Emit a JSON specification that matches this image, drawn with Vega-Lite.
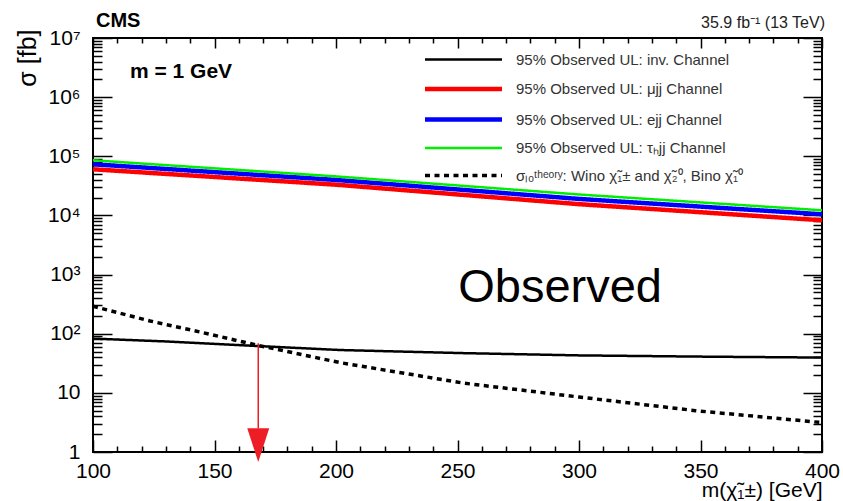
{
  "$schema": "https://vega.github.io/schema/vega-lite/v6.json",
  "width": 729,
  "height": 414,
  "autosize": {"type": "none"},
  "padding": {"left": 93, "top": 38, "right": 21, "bottom": 49},
  "background": "white",
  "config": {
    "font": "Liberation Sans",
    "view": {"stroke": "black", "strokeWidth": 2},
    "axis": {"grid": false, "domain": false, "tickColor": "black", "tickWidth": 1.5, "labelFlush": false, "labelOverlap": false, "labelBound": false, "labelColor": "black", "titleColor": "black", "titleFontWeight": "normal"}
  },
  "data": {
    "values": [
      {"series": "95% Observed UL: inv. Channel", "mass": 100, "xsec": 82.7},
      {"series": "95% Observed UL: inv. Channel", "mass": 130, "xsec": 74},
      {"series": "95% Observed UL: inv. Channel", "mass": 167.5, "xsec": 62},
      {"series": "95% Observed UL: inv. Channel", "mass": 201.6, "xsec": 53},
      {"series": "95% Observed UL: inv. Channel", "mass": 252, "xsec": 47},
      {"series": "95% Observed UL: inv. Channel", "mass": 300, "xsec": 43},
      {"series": "95% Observed UL: inv. Channel", "mass": 350, "xsec": 41},
      {"series": "95% Observed UL: inv. Channel", "mass": 400, "xsec": 39.5},
      {"series": "95% Observed UL: μjj Channel", "mass": 100, "xsec": 60300},
      {"series": "95% Observed UL: μjj Channel", "mass": 200, "xsec": 33100},
      {"series": "95% Observed UL: μjj Channel", "mass": 300, "xsec": 15500},
      {"series": "95% Observed UL: μjj Channel", "mass": 400, "xsec": 8280},
      {"series": "95% Observed UL: ejj Channel", "mass": 100, "xsec": 73300},
      {"series": "95% Observed UL: ejj Channel", "mass": 200, "xsec": 39800},
      {"series": "95% Observed UL: ejj Channel", "mass": 300, "xsec": 19000},
      {"series": "95% Observed UL: ejj Channel", "mass": 400, "xsec": 10450},
      {"series": "95% Observed UL: τₕjj Channel", "mass": 100, "xsec": 85600},
      {"series": "95% Observed UL: τₕjj Channel", "mass": 200, "xsec": 45700},
      {"series": "95% Observed UL: τₕjj Channel", "mass": 300, "xsec": 22600},
      {"series": "95% Observed UL: τₕjj Channel", "mass": 400, "xsec": 12200},
      {"series": "σₗₒᵗʰᵉᵒʳʸ: Wino χ̃₁± and χ̃₂⁰, Bino χ̃₁⁰", "mass": 100, "xsec": 291},
      {"series": "σₗₒᵗʰᵉᵒʳʸ: Wino χ̃₁± and χ̃₂⁰, Bino χ̃₁⁰", "mass": 123.5, "xsec": 164},
      {"series": "σₗₒᵗʰᵉᵒʳʸ: Wino χ̃₁± and χ̃₂⁰, Bino χ̃₁⁰", "mass": 144, "xsec": 107},
      {"series": "σₗₒᵗʰᵉᵒʳʸ: Wino χ̃₁± and χ̃₂⁰, Bino χ̃₁⁰", "mass": 167.5, "xsec": 64},
      {"series": "σₗₒᵗʰᵉᵒʳʸ: Wino χ̃₁± and χ̃₂⁰, Bino χ̃₁⁰", "mass": 201.6, "xsec": 32.5},
      {"series": "σₗₒᵗʰᵉᵒʳʸ: Wino χ̃₁± and χ̃₂⁰, Bino χ̃₁⁰", "mass": 252, "xsec": 14.7},
      {"series": "σₗₒᵗʰᵉᵒʳʸ: Wino χ̃₁± and χ̃₂⁰, Bino χ̃₁⁰", "mass": 300, "xsec": 8.5},
      {"series": "σₗₒᵗʰᵉᵒʳʸ: Wino χ̃₁± and χ̃₂⁰, Bino χ̃₁⁰", "mass": 348, "xsec": 5.0},
      {"series": "σₗₒᵗʰᵉᵒʳʸ: Wino χ̃₁± and χ̃₂⁰, Bino χ̃₁⁰", "mass": 400, "xsec": 3.14}
    ]
  },
  "resolve": {"axis": {"x": "independent", "y": "independent"}},
  "layer": [
    {
      "mark": {"type": "line", "strokeCap": "butt", "clip": true},
      "encoding": {
        "x": {"field": "mass", "type": "quantitative",
          "scale": {"domain": [100, 400], "nice": false, "zero": false},
          "axis": {"orient": "bottom", "values": [100, 150, 200, 250, 300, 350, 400], "tickSize": -12, "labelPadding": 20, "labelFontSize": 21, "title": "m(χ̃₁±) [GeV]", "titleFontSize": 21, "titleAnchor": "end", "titleAlign": "right", "titleBaseline": "alphabetic", "titleX": 729, "titleY": 44}},
        "y": {"field": "xsec", "type": "quantitative",
          "scale": {"type": "log", "domain": [1, 10000000], "nice": false},
          "axis": {"orient": "left", "values": [1, 10, 100, 1000, 10000, 100000, 1000000, 10000000], "tickSize": -19, "labelPadding": 32, "labelFontSize": 21,
            "labelExpr": "datum.value < 5 ? '1' : datum.value < 50 ? '10' : '10' + ['','','²','³','⁴','⁵','⁶','⁷'][round(log(datum.value)/LN10)]",
            "title": "σ [fb]", "titleFontSize": 25, "titleAnchor": "end", "titleAlign": "right", "titleBaseline": "bottom", "titleAngle": -90, "titleX": -53, "titleY": -9}},
        "color": {"field": "series", "type": "nominal",
          "scale": {"domain": ["95% Observed UL: inv. Channel", "95% Observed UL: μjj Channel", "95% Observed UL: ejj Channel", "95% Observed UL: τₕjj Channel", "σₗₒᵗʰᵉᵒʳʸ: Wino χ̃₁± and χ̃₂⁰, Bino χ̃₁⁰"],
            "range": ["#000000", "#ff0000", "#0000ff", "#00ee00", "#000000"]},
          "legend": {"orient": "none", "legendX": 363, "legendY": 14, "title": null, "symbolType": "M-7.7,0L7.7,0", "symbolSize": 100, "labelFontSize": 15, "labelColor": "#333333", "labelLimit": 400, "rowPadding": 11.5, "labelOffset": 45, "padding": 0}},
        "strokeDash": {"field": "series", "type": "nominal",
          "scale": {"domain": ["95% Observed UL: inv. Channel", "95% Observed UL: μjj Channel", "95% Observed UL: ejj Channel", "95% Observed UL: τₕjj Channel", "σₗₒᵗʰᵉᵒʳʸ: Wino χ̃₁± and χ̃₂⁰, Bino χ̃₁⁰"],
            "range": [[1, 0], [1, 0], [1, 0], [1, 0], [5, 4.5]]}},
        "strokeWidth": {"field": "series", "type": "nominal",
          "scale": {"type": "ordinal", "domain": ["95% Observed UL: inv. Channel", "95% Observed UL: μjj Channel", "95% Observed UL: ejj Channel", "95% Observed UL: τₕjj Channel", "σₗₒᵗʰᵉᵒʳʸ: Wino χ̃₁± and χ̃₂⁰, Bino χ̃₁⁰"],
            "range": [2.5, 4.5, 4.5, 2.5, 3.5]}}
      }
    },
    {
      "mark": {"type": "point", "opacity": 0},
      "encoding": {
        "x": {"field": "mass", "type": "quantitative", "scale": {"domain": [100, 400], "nice": false, "zero": false},
          "axis": {"orient": "bottom", "values": [110, 120, 130, 140, 160, 170, 180, 190, 210, 220, 230, 240, 260, 270, 280, 290, 310, 320, 330, 340, 360, 370, 380, 390], "tickSize": -6, "labels": false, "title": null}},
        "y": {"field": "xsec", "type": "quantitative", "scale": {"type": "log", "domain": [1, 10000000], "nice": false},
          "axis": {"orient": "left", "values": [2, 3, 4, 5, 6, 7, 8, 9, 20, 30, 40, 50, 60, 70, 80, 90, 200, 300, 400, 500, 600, 700, 800, 900, 2000, 3000, 4000, 5000, 6000, 7000, 8000, 9000, 20000, 30000, 40000, 50000, 60000, 70000, 80000, 90000, 200000, 300000, 400000, 500000, 600000, 700000, 800000, 900000, 2000000, 3000000, 4000000, 5000000, 6000000, 7000000, 8000000, 9000000], "tickSize": -9, "labels": false, "title": null}}
      }
    },
    {
      "mark": {"type": "point", "opacity": 0},
      "encoding": {
        "x": {"field": "mass", "type": "quantitative", "scale": {"domain": [100, 400], "nice": false, "zero": false},
          "axis": {"orient": "top", "values": [100, 150, 200, 250, 300, 350, 400], "tickSize": -10, "labels": false, "title": null}},
        "y": {"field": "xsec", "type": "quantitative", "scale": {"type": "log", "domain": [1, 10000000], "nice": false},
          "axis": {"orient": "right", "values": [1, 10, 100, 1000, 10000, 100000, 1000000, 10000000], "tickSize": -19, "labels": false, "title": null}}
      }
    },
    {
      "mark": {"type": "point", "opacity": 0},
      "encoding": {
        "x": {"field": "mass", "type": "quantitative", "scale": {"domain": [100, 400], "nice": false, "zero": false},
          "axis": {"orient": "top", "values": [110, 120, 130, 140, 160, 170, 180, 190, 210, 220, 230, 240, 260, 270, 280, 290, 310, 320, 330, 340, 360, 370, 380, 390], "tickSize": -5, "labels": false, "title": null}},
        "y": {"field": "xsec", "type": "quantitative", "scale": {"type": "log", "domain": [1, 10000000], "nice": false},
          "axis": {"orient": "right", "values": [2, 3, 4, 5, 6, 7, 8, 9, 20, 30, 40, 50, 60, 70, 80, 90, 200, 300, 400, 500, 600, 700, 800, 900, 2000, 3000, 4000, 5000, 6000, 7000, 8000, 9000, 20000, 30000, 40000, 50000, 60000, 70000, 80000, 90000, 200000, 300000, 400000, 500000, 600000, 700000, 800000, 900000, 2000000, 3000000, 4000000, 5000000, 6000000, 7000000, 8000000, 9000000], "tickSize": -9, "labels": false, "title": null}}
      }
    },
    {
      "data": {"values": [{}]},
      "mark": {"type": "rule", "color": "#ee1c25", "strokeWidth": 1.5},
      "encoding": {
        "x": {"datum": 168, "type": "quantitative", "axis": null},
        "y": {"datum": 68.9, "type": "quantitative", "axis": null},
        "y2": {"datum": 2.5}
      }
    },
    {
      "data": {"values": [{}]},
      "mark": {"type": "point", "shape": "M-1,-1.53L1,-1.53L0,1.53Z", "size": 484, "filled": true, "color": "#ee1c25", "opacity": 1, "strokeWidth": 0},
      "encoding": {
        "x": {"datum": 168, "type": "quantitative", "axis": null},
        "y": {"datum": 1.306, "type": "quantitative", "axis": null}
      }
    },
    {
      "data": {"values": [{}]},
      "mark": {"type": "text", "text": "CMS", "fontWeight": "bold", "fontSize": 20, "align": "left", "baseline": "alphabetic", "dx": 3, "dy": -11, "color": "black"},
      "encoding": {
        "x": {"datum": 100, "type": "quantitative", "axis": null},
        "y": {"datum": 10000000, "type": "quantitative", "axis": null}
      }
    },
    {
      "data": {"values": [{}]},
      "mark": {"type": "text", "text": "35.9 fb⁻¹ (13 TeV)", "fontSize": 16, "align": "right", "baseline": "alphabetic", "dx": 3, "dy": -10, "color": "#222222"},
      "encoding": {
        "x": {"datum": 400, "type": "quantitative", "axis": null},
        "y": {"datum": 10000000, "type": "quantitative", "axis": null}
      }
    },
    {
      "data": {"values": [{}]},
      "mark": {"type": "text", "text": "m = 1 GeV", "fontWeight": "bold", "fontSize": 21, "align": "left", "baseline": "alphabetic", "color": "black"},
      "encoding": {
        "x": {"datum": 115.2, "type": "quantitative", "axis": null},
        "y": {"datum": 2080000, "type": "quantitative", "axis": null}
      }
    },
    {
      "data": {"values": [{}]},
      "mark": {"type": "text", "text": "Observed", "fontSize": 47, "align": "left", "baseline": "alphabetic", "color": "black"},
      "encoding": {
        "x": {"datum": 250.3, "type": "quantitative", "axis": null},
        "y": {"datum": 344, "type": "quantitative", "axis": null}
      }
    }
  ]
}
